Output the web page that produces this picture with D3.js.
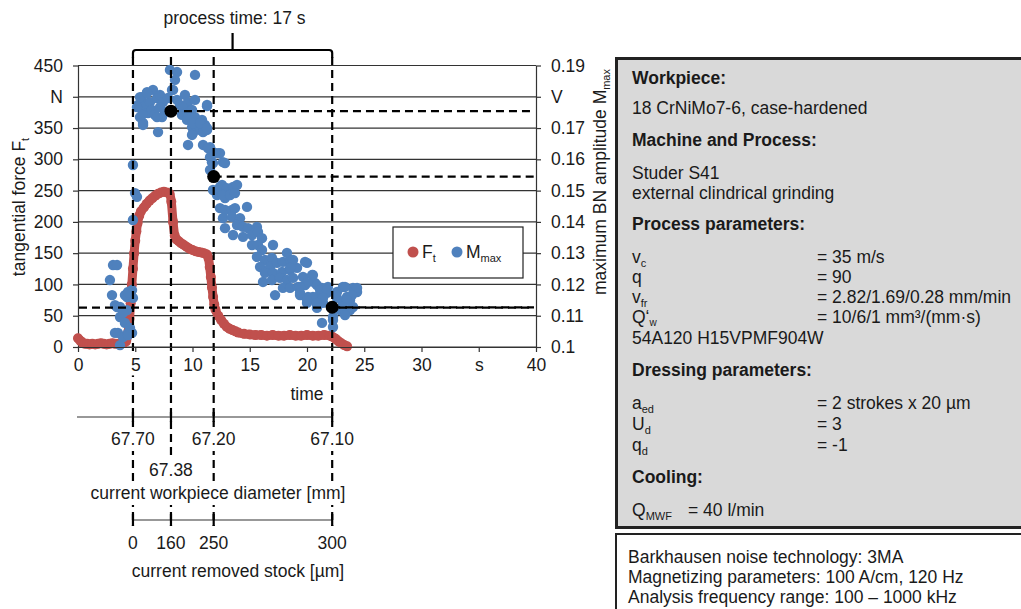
<!DOCTYPE html>
<html>
<head>
<meta charset="utf-8">
<script src="https://cdn.jsdelivr.net/npm/d3@7"></script>
<style>
  body { margin: 0; background: #fff; }
  svg text { font-family: Arial, "Liberation Sans", sans-serif; fill: #1a1a1a; }
</style>
</head>
<body>
<svg id="chart" width="1021" height="609"></svg>
<script>
// tangential force F_t [N] over time [s]
const forceData = [
  [0.0, 14], [0.2, 10], [0.4, 7], [0.6, 5], [0.8, 5], [1.0, 4], [1.25, 5], [1.5, 4], [1.75, 5], [2.0, 6],
  [2.25, 5], [2.5, 4], [2.75, 5], [3.0, 6], [3.25, 5], [3.5, 5], [3.75, 6], [4.0, 7], [4.2, 9], [4.4, 25],
  [4.5, 45], [4.6, 70], [4.7, 100], [4.8, 125], [4.9, 150], [5.0, 170], [5.1, 185], [5.2, 198], [5.35, 210],
  [5.5, 217], [5.75, 223], [6.0, 229], [6.25, 234], [6.5, 238], [6.75, 242], [7.0, 245], [7.25, 247],
  [7.5, 248], [7.75, 247], [8.0, 245], [8.15, 232], [8.3, 200], [8.45, 178], [8.6, 172], [8.8, 169],
  [9.0, 166], [9.25, 163], [9.5, 160], [9.75, 157], [10.0, 155], [10.25, 153], [10.5, 152], [10.75, 151],
  [11.0, 150], [11.25, 148], [11.4, 142], [11.5, 128], [11.6, 112], [11.7, 95], [11.8, 80], [11.9, 68],
  [12.0, 60], [12.25, 50], [12.5, 43], [12.75, 37], [13.0, 32], [13.25, 29], [13.5, 27], [13.75, 25],
  [14.0, 23], [14.5, 21], [15.0, 20], [15.5, 19], [16.0, 19], [16.5, 18], [17.0, 19], [17.5, 18],
  [18.0, 18], [18.5, 19], [19.0, 18], [19.5, 18], [20.0, 19], [20.5, 18], [21.0, 18], [21.5, 19],
  [22.0, 18], [22.25, 16], [22.5, 13], [22.75, 9], [23.0, 6], [23.25, 3], [23.5, 1]
];

// maximum BN amplitude M_max [V] over time [s]
const mmaxData = [
  [2.79, .1214], [3.06, .1262], [3.41, .1262], [2.97, .1166], [3.23, .1134], [3.41, .1128], [3.67, .1096],
  [4.28, .1160], [4.72, .1182], [4.80, .1157], [3.49, .1045], [3.93, .1032], [3.67, .1006], [4.37, .1045],
  [4.72, .1045], [4.10, .1077], [4.28, .1118], [4.10, .1166], [4.37, .1176], [3.67, .1128], [3.93, .1109],
  [3.23, .1045], [4.54, .1061], [4.37, .1038], [4.98, .1492], [5.15, .1480], [4.80, .1406], [4.80, .1582],
  [5.59, .1799], [6.03, .1815], [6.55, .1822], [5.24, .1774], [5.59, .1764], [5.85, .1774], [6.29, .1783],
  [5.41, .1735], [5.68, .1716], [6.11, .1748], [6.46, .1758], [6.90, .1796], [7.16, .1806], [6.72, .1742],
  [6.99, .1687], [7.42, .1783], [7.86, .1796], [8.30, .1822], [8.03, .1886], [8.65, .1879], [8.47, .1854],
  [10.22, .1870], [7.60, .1751], [7.34, .1735], [8.65, .1790], [8.91, .1774], [9.34, .1806], [9.61, .1783],
  [10.22, .1790], [9.17, .1764], [9.52, .1748], [9.96, .1758], [9.78, .1732], [10.22, .1735], [10.48, .1719],
  [10.83, .1726], [11.09, .1710], [11.27, .1774], [9.96, .1703], [10.04, .1684], [10.66, .1694], [10.92, .1687],
  [11.27, .1694], [9.61, .1646], [10.92, .1646], [11.53, .1639], [11.79, .1623], [12.23, .1620], [12.66, .1591],
  [11.70, .1591], [12.14, .1486], [12.58, .1508], [12.84, .1476],
  [5.41, .1799], [6.03, .1812], [5.15, .1767], [5.59, .1742], [6.90, .1735], [7.16, .1767], [9.08, .1742],
  [9.52, .1726], [10.04, .1716], [10.66, .1716], [11.27, .1700], [9.96, .1678], [5.68, .1710], [8.21, .1822],
  [12.40, .1620], [12.84, .1588], [12.58, .1518], [11.27, .1770],
  [11.35, .1636], [11.53, .1607], [11.97, .1620], [11.79, .1588], [11.53, .1566], [11.79, .1502], [12.40, .1512],
  [13.01, .1508], [13.54, .1512], [13.89, .1518], [12.66, .1486], [13.28, .1486], [13.71, .1492], [12.40, .1444],
  [12.84, .1438], [13.45, .1438], [13.71, .1444], [14.76, .1448], [12.66, .1412], [13.45, .1416], [14.15, .1412],
  [12.84, .1380], [13.89, .1390], [14.41, .1384], [14.85, .1380], [15.63, .1384], [13.54, .1358], [14.41, .1352],
  [15.20, .1358], [15.72, .1368], [16.07, .1348], [15.20, .1326], [15.72, .1326], [17.03, .1326], [16.07, .1310],
  [15.63, .1288], [16.33, .1278], [16.94, .1285], [15.90, .1256], [16.77, .1256], [17.38, .1269], [17.90, .1272],
  [18.52, .1278], [20.00, .1269], [16.33, .1237], [17.03, .1237], [17.82, .1240], [18.52, .1246], [19.13, .1253],
  [16.16, .1208], [16.94, .1214], [17.64, .1221], [18.25, .1214], [18.78, .1221], [19.65, .1224], [20.52, .1230],
  [17.21, .1166], [17.90, .1189], [18.52, .1189], [19.21, .1192], [19.83, .1198], [20.70, .1205], [21.31, .1189],
  [19.39, .1166], [20.09, .1160], [20.87, .1160], [21.75, .1173], [21.83, .1192], [23.14, .1192], [24.02, .1189],
  [24.37, .1176], [23.49, .1160], [22.62, .1157], [20.00, .1141], [20.87, .1134], [21.40, .1141], [23.14, .1141],
  [23.76, .1150], [24.02, .1128], [23.49, .1118], [22.88, .1118], [20.87, .1125], [22.27, .1096],
  [18.25, .1301], [18.78, .1278], [18.52, .1253], [19.83, .1272], [20.44, .1230], [20.00, .1205], [19.39, .1192],
  [20.87, .1198], [21.14, .1182], [21.75, .1182], [20.52, .1160], [21.40, .1157], [22.62, .1176], [23.32, .1192],
  [24.37, .1189], [23.93, .1166], [23.49, .1150], [23.06, .1128], [23.76, .1118], [23.32, .1102], [21.31, .1077],
  [22.27, .1086], [22.27, .1064], [19.39, .1173], [20.00, .1150], [20.87, .1141]
];

// marked moments (start, 160 µm, 250 µm, end) and their M_max values
const markTimes = [4.8, 8.12, 11.85, 22.2];
const markPoints = [[8.12, .1754], [11.85, .1545], [22.2, .1127]];
const endLevelForce = 63; // N, dashed line across the whole chart
const diameterLabels = ["67.70", "67.38", "67.20", "67.10"];
const stockLabels = ["0", "160", "250", "300"];

const forceTicks = [0, 50, 100, 150, 200, 250, 300, 350, 400, 450];
const mmaxTicks = [0.1, 0.11, 0.12, 0.13, 0.14, 0.15, 0.16, 0.17, 0.18, 0.19];
const timeTicks = [0, 5, 10, 15, 20, 25, 30, 35, 40];

const RED = "#c0504d", BLUE = "#4f81bd";
const SVG = d3.select("#chart");
const FS = 17.5;

const x = d3.scaleLinear().domain([0, 40]).range([78, 536]);
const yF = d3.scaleLinear().domain([0, 450]).range([347, 65.5]);
const yM = d3.scaleLinear().domain([0.1, 0.19]).range([347, 65.5]);

// grid
SVG.append("g").selectAll("line").data(forceTicks).join("line")
  .attr("x1", 78).attr("x2", 536)
  .attr("y1", d => yF(d)).attr("y2", d => yF(d))
  .attr("stroke", "#333").attr("stroke-width", 1.2);

// left axis
const yAxisL = d3.axisLeft(yF).tickValues(forceTicks).tickSize(5).tickSizeOuter(0)
  .tickFormat(d => d === 400 ? "N" : d);
const gL = SVG.append("g").attr("transform", "translate(78,0)").call(yAxisL);
// right axis
const yAxisR = d3.axisRight(yM).tickValues(mmaxTicks).tickSize(5).tickSizeOuter(0)
  .tickFormat(d => Math.abs(d - 0.18) < 1e-6 ? "V" : (Math.abs(d - 0.1) < 1e-6 ? "0.1" : d3.format(".2f")(d)));
const gR = SVG.append("g").attr("transform", "translate(536,0)").call(yAxisR);
// bottom axis
const xAxis = d3.axisBottom(x).tickValues(timeTicks).tickSize(5).tickSizeOuter(0)
  .tickFormat(d => d === 35 ? "s" : d);
const gX = SVG.append("g").attr("transform", "translate(0,347)").call(xAxis);

[gL, gR, gX].forEach(g => {
  g.select(".domain").attr("stroke", "#333").attr("stroke-width", 1.2);
  g.selectAll(".tick line").attr("stroke", "#333").attr("stroke-width", 1.2);
  g.selectAll(".tick text").attr("font-size", FS).attr("fill", "#1a1a1a")
    .style("font-family", "Arial, 'Liberation Sans', sans-serif");
});
gL.selectAll(".tick text").attr("x", -15);
gR.selectAll(".tick text").attr("x", 15);
gX.selectAll(".tick text").attr("y", 12);

// force series
const line = d3.line().x(d => x(d[0])).y(d => yF(d[1])).curve(d3.curveMonotoneX);
SVG.append("path").datum(forceData).attr("d", line)
  .attr("fill", "none").attr("stroke", RED).attr("stroke-width", 9)
  .attr("stroke-linejoin", "round").attr("stroke-linecap", "round");
SVG.append("g").selectAll("circle").data(forceData).join("circle")
  .attr("cx", d => x(d[0])).attr("cy", d => yF(d[1])).attr("r", 5).attr("fill", RED);

// M_max series
SVG.append("g").selectAll("circle").data(mmaxData).join("circle")
  .attr("cx", d => x(d[0])).attr("cy", d => yM(d[1])).attr("r", 5.2).attr("fill", BLUE);

// dashed marker lines
const dash = { stroke: "#000", "stroke-width": 2.2, "stroke-dasharray": "8,5", fill: "none" };
function dashed(sel) { Object.entries(dash).forEach(([k, v]) => sel.attr(k, v)); return sel; }
const gD = SVG.append("g");
dashed(gD.selectAll("line.v").data(markTimes).join("line").attr("class", "v")
  .attr("x1", d => x(d)).attr("x2", d => x(d)).attr("y1", 57).attr("y2", 526));
dashed(gD.selectAll("line.h").data(markPoints).join("line").attr("class", "h")
  .attr("x1", d => x(d[0])).attr("x2", 534).attr("y1", d => yM(d[1])).attr("y2", d => yM(d[1])));
dashed(gD.append("line").attr("x1", 79).attr("x2", 534)
  .attr("y1", yF(endLevelForce)).attr("y2", yF(endLevelForce)));

SVG.append("g").selectAll("circle").data(markPoints).join("circle")
  .attr("cx", d => x(d[0])).attr("cy", d => yM(d[1])).attr("r", 6.5).attr("fill", "#000");

// process-time bracket
const bx0 = x(markTimes[0]), bx1 = x(markTimes[3]), bm = (bx0 + bx1) / 2;
SVG.append("path")
  .attr("d", `M${bx0},58 V53 Q${bx0},50 ${bx0 + 3},50 H${bx1 - 3} Q${bx1},50 ${bx1},53 V58 M${bm},50 V33`)
  .attr("fill", "none").attr("stroke", "#000").attr("stroke-width", 2.2);
SVG.append("text").attr("x", bm + 2).attr("y", 24).attr("text-anchor", "middle")
  .attr("font-size", FS).text("process time: 17 s");

// legend
const lg = SVG.append("g").attr("transform", "translate(393,227)");
lg.append("rect").attr("width", 130).attr("height", 51).attr("fill", "#fff")
  .attr("stroke", "#222").attr("stroke-width", 1.2);
lg.append("circle").attr("cx", 20).attr("cy", 25).attr("r", 5.5).attr("fill", RED);
lg.append("text").attr("x", 29).attr("y", 31).attr("font-size", FS)
  .html('F<tspan font-size="11" dy="4">t</tspan>');
lg.append("circle").attr("cx", 64).attr("cy", 25).attr("r", 5.5).attr("fill", BLUE);
lg.append("text").attr("x", 73).attr("y", 31).attr("font-size", FS)
  .html('M<tspan font-size="11" dy="4">max</tspan>');

// axis titles
SVG.append("text").attr("transform", "translate(25,207) rotate(-90)").attr("text-anchor", "middle")
  .attr("font-size", FS).html('tangential force F<tspan font-size="11" dy="4">t</tspan>');
SVG.append("text").attr("transform", "translate(606,182) rotate(-90)").attr("text-anchor", "middle")
  .attr("font-size", FS).html('maximum BN amplitude M<tspan font-size="11" dy="4">max</tspan>');
SVG.append("text").attr("x", 307).attr("y", 400).attr("text-anchor", "middle")
  .attr("font-size", FS).text("time");

// labels with white background that break the dashed lines
function boxedText(xp, yp, txt) {
  const g = SVG.append("g");
  const r = g.append("rect").attr("fill", "#fff");
  const t = g.append("text").attr("x", xp).attr("y", yp).attr("text-anchor", "middle")
    .attr("font-size", FS).text(txt);
  const b = t.node().getBBox();
  r.attr("x", b.x - 2).attr("y", b.y - 2).attr("width", b.width + 4).attr("height", b.height + 4);
}
// white backgrounds under time tick labels near the markers
gX.selectAll(".tick").each(function () {
  const t = d3.select(this).select("text");
  const b = t.node().getBBox();
  d3.select(this).insert("rect", "text").attr("fill", "#fff")
    .attr("x", b.x - 1).attr("y", b.y).attr("width", b.width + 2).attr("height", b.height);
});
gX.raise();

// diameter axis
const gT = SVG.append("g");
gT.append("line").attr("x1", 77).attr("x2", x(markTimes[3])).attr("y1", 417).attr("y2", 417)
  .attr("stroke", "#333").attr("stroke-width", 1.2);
gT.selectAll("line.tk").data(markTimes).join("line").attr("class", "tk")
  .attr("x1", d => x(d)).attr("x2", d => x(d)).attr("y1", 412).attr("y2", 422)
  .attr("stroke", "#000").attr("stroke-width", 2.2);
diameterLabels.forEach((lab, i) => boxedText(x(markTimes[i]), i === 1 ? 476 : 445, lab));
boxedText(218, 499, "current workpiece diameter [mm]");

// removed stock axis
const gS = SVG.append("g");
gS.append("line").attr("x1", x(markTimes[0])).attr("x2", x(markTimes[3])).attr("y1", 520).attr("y2", 520)
  .attr("stroke", "#333").attr("stroke-width", 1.2);
gS.selectAll("line.tk").data(markTimes).join("line").attr("class", "tk")
  .attr("x1", d => x(d)).attr("x2", d => x(d)).attr("y1", 514).attr("y2", 526)
  .attr("stroke", "#000").attr("stroke-width", 2.2);
stockLabels.forEach((lab, i) => boxedText(x(markTimes[i]), 549, lab));
boxedText(238, 577, "current removed stock [µm]");

// info panel
const P = SVG.append("g");
P.append("rect").attr("x", 616.5).attr("y", 58.5).attr("width", 420).attr("height", 469)
  .attr("fill", "#d9d9d9").attr("stroke", "#222").attr("stroke-width", 3);
P.append("rect").attr("x", 616).attr("y", 534).attr("width", 420).attr("height", 90)
  .attr("fill", "#fff").attr("stroke", "#222").attr("stroke-width", 2);

const panelLines = [
  { y: 84, html: "<tspan font-weight='bold'>Workpiece:</tspan>" },
  { y: 114, html: "18 CrNiMo7-6, case-hardened" },
  { y: 146, html: "<tspan font-weight='bold'>Machine and Process:</tspan>" },
  { y: 179, html: "Studer S41" },
  { y: 199, html: "external clindrical grinding" },
  { y: 230, html: "<tspan font-weight='bold'>Process parameters:</tspan>" },
  { y: 263, html: "v<tspan font-size='11' dy='4'>c</tspan>", val: "= 35 m/s" },
  { y: 283, html: "q", val: "= 90" },
  { y: 303, html: "v<tspan font-size='11' dy='4'>fr</tspan>", val: "= 2.82/1.69/0.28 mm/min" },
  { y: 323, html: "Q‘<tspan font-size='10' dy='2.5'>w</tspan>", val: "= 10/6/1 mm³/(mm·s)" },
  { y: 344, html: "54A120 H15VPMF904W" },
  { y: 376, html: "<tspan font-weight='bold'>Dressing parameters:</tspan>" },
  { y: 409, html: "a<tspan font-size='11' dy='4'>ed</tspan>", val: "= 2 strokes x 20 µm" },
  { y: 430, html: "U<tspan font-size='11' dy='4'>d</tspan>", val: "= 3" },
  { y: 451, html: "q<tspan font-size='11' dy='4'>d</tspan>", val: "= -1" },
  { y: 483, html: "<tspan font-weight='bold'>Cooling:</tspan>" },
  { y: 516, html: "Q<tspan font-size='11' dy='4'>MWF</tspan>", val: "= 40 l/min", vx: 688 }
];
panelLines.forEach(l => {
  P.append("text").attr("x", 632).attr("y", l.y).attr("font-size", FS).html(l.html);
  if (l.val) P.append("text").attr("x", l.vx || 817).attr("y", l.y).attr("font-size", FS).text(l.val);
});
const infoLines = [
  "Barkhausen noise technology: 3MA",
  "Magnetizing parameters: 100 A/cm, 120 Hz",
  "Analysis frequency range: 100 – 1000 kHz"
];
P.selectAll("text.info").data(infoLines).join("text").attr("class", "info")
  .attr("x", 628).attr("y", (d, i) => 563 + i * 20).attr("font-size", FS).text(d => d);
</script>
</body>
</html>
